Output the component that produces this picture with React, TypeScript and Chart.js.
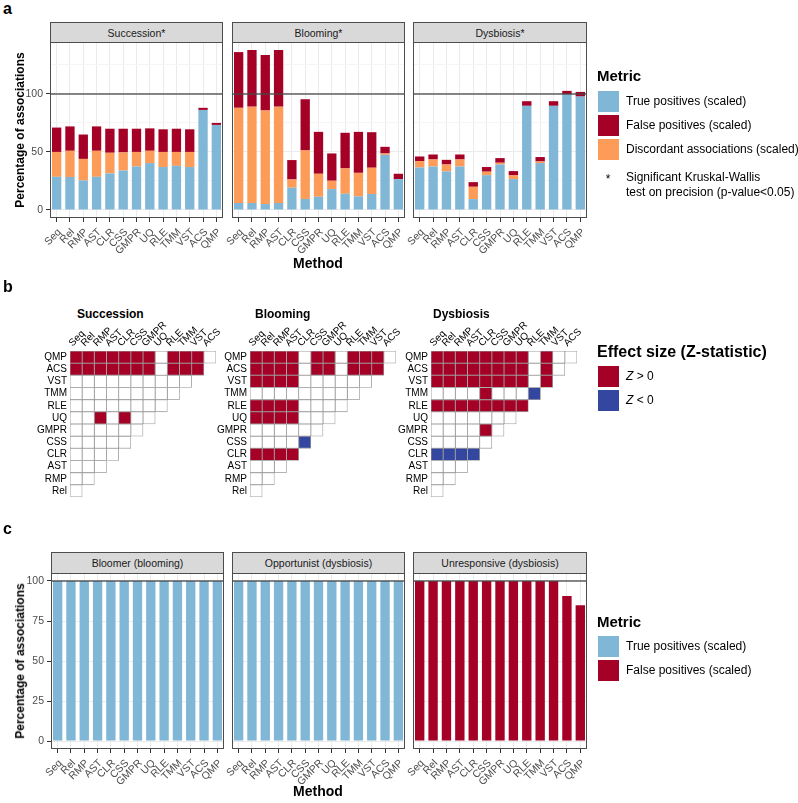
import React, { useEffect, useRef } from "react";
import { Chart, registerables } from "chart.js";
Chart.register(...registerables);

const FONT = "'Liberation Sans', Arial, Helvetica, sans-serif";
Chart.defaults.font.family = FONT;

// ---------- data ----------
const methods = ["Seq", "Rel", "RMP", "AST", "CLR", "CSS", "GMPR", "UQ", "RLE", "TMM", "VST", "ACS", "QMP"];

// Panel a (stack segments: true positives, discordant, false positives)
const succTP = [28.6, 28.4, 25.5, 28.6, 31.5, 34.0, 37.5, 40.4, 37.0, 38.0, 37.0, 86.2, 73.3];
const succDisc = [21.4, 22.6, 18.5, 22.4, 17.8, 15.6, 12.5, 10.6, 13.0, 12.0, 13.0, 0, 0];
const succFP = [21.0, 21.0, 21.0, 21.0, 20.7, 20.4, 20.0, 19.3, 19.5, 20.0, 19.5, 1.8, 1.7];

const bloomTP = [6.0, 6.0, 5.1, 6.0, 19.2, 9.5, 11.4, 18.0, 14.0, 11.7, 13.8, 47.5, 26.6];
const bloomDisc = [82.0, 83.0, 80.6, 83.0, 7.1, 41.8, 19.8, 7.2, 21.8, 20.3, 22.6, 1.2, 0];
const bloomFP = [48.0, 48.8, 47.8, 48.8, 16.7, 44.1, 36.1, 23.5, 30.7, 35.3, 30.6, 5.7, 4.6];

const dysTP = [36.6, 37.5, 33.2, 37.5, 9.4, 30.0, 39.2, 26.6, 89.7, 40.4, 89.7, 99.7, 97.7];
const dysDisc = [5.5, 6.0, 6.0, 6.0, 10.6, 3.0, 1.5, 3.2, 0, 1.4, 0, 0, 0];
const dysFP = [4.0, 4.3, 4.0, 4.3, 4.0, 4.0, 4.0, 3.7, 4.0, 3.8, 4.0, 2.9, 4.0];

// Panel b (r = Z>0, b = Z<0, 0 = not significant); rows top->bottom, columns Seq..ACS
const heatRows = ["QMP", "ACS", "VST", "TMM", "RLE", "UQ", "GMPR", "CSS", "CLR", "AST", "RMP", "Rel"];
const heatCols = ["Seq", "Rel", "RMP", "AST", "CLR", "CSS", "GMPR", "UQ", "RLE", "TMM", "VST", "ACS"];
const succEffect = ["rrrrrrr0rrr0", "rrrrrrr0rrr", "0000000000", "000000000", "00000000", "00r0r00", "000000", "00000", "0000", "000", "00", "0"];
const bloomEffect = ["rrrr0rr0rrr0", "rrrr0rr0rrr", "rrrr000000", "000000000", "rrrr0000", "rrrr000", "000000", "0000b", "rrrr", "000", "00", "0"];
const dysEffect = ["rrrrrrrr0r00", "rrrrrrrr0r0", "rrrrrrrr0r", "0000r000b", "rrrrrrrr", "0000000", "0000r0", "00000", "bbbb", "000", "00", "0"];

// Panel c
const bloomerTP = [100, 100, 100, 100, 100, 100, 100, 100, 100, 100, 100, 100, 100];
const opportunistTP = [100, 100, 100, 100, 100, 100, 100, 100, 100, 100, 100, 100, 100];
const unresponsiveFP = [100, 100, 100, 100, 100, 100, 100, 100, 100, 100, 100, 90.6, 84.8];

const aTicks = [0, 50, 100];
const cTicks = [0, 25, 50, 75, 100];

// ---------- styles ----------
const C_TP = "#80B6D6";
const C_FP = "#A50026";
const C_DISC = "#FD9B58";
const C_NEG = "#3447A0";

const fixScale = (w?: number, h?: number) => (s: any) => {
  if (w !== undefined) s.width = w;
  if (h !== undefined) s.height = h;
  s.paddingLeft = 0;
  s.paddingRight = 0;
  s.paddingTop = 0;
  s.paddingBottom = 0;
};

const framePlugin = {
  id: "frame",
  afterDatasetsDraw(chart: any) {
    const { ctx, chartArea: a, scales } = chart;
    const y = scales.y.getPixelForValue(100);
    ctx.save();
    ctx.strokeStyle = "rgba(70,70,70,0.65)";
    ctx.lineWidth = 2;
    ctx.beginPath();
    ctx.moveTo(a.left, y);
    ctx.lineTo(a.right, y);
    ctx.stroke();
    ctx.strokeStyle = "#4D4D4D";
    ctx.lineWidth = 1;
    ctx.strokeRect(a.left + 0.5, a.top + 0.5, a.right - a.left - 1, a.bottom - a.top - 1);
    ctx.restore();
  },
};

function ChartCanvas({ left, top, width, height, make }: any) {
  const ref = useRef<HTMLCanvasElement>(null);
  useEffect(() => {
    const chart = new Chart(ref.current as HTMLCanvasElement, make());
    return () => chart.destroy();
  }, []);
  return (
    <canvas
      ref={ref}
      width={width}
      height={height}
      style={{ position: "absolute", left, top, width, height }}
    />
  );
}

function barConfig(p: any) {
  return {
    type: "bar",
    data: {
      labels: methods,
      datasets: p.datasets.map((d: any) => ({
        ...d,
        barPercentage: 0.7,
        categoryPercentage: 1,
        borderWidth: 0,
      })),
    },
    options: {
      animation: false,
      responsive: false,
      events: [],
      layout: { padding: { left: p.yAxis ? 0 : p.padL, top: p.padT, right: p.padR, bottom: p.padB } },
      plugins: { legend: { display: false }, tooltip: { enabled: false } },
      scales: {
        x: {
          stacked: true,
          offset: true,
          grid: { offset: false, color: "#EBEBEB", lineWidth: 1, tickLength: 4, tickColor: "#333333", tickWidth: 1 },
          border: { display: false },
          ticks: {
            autoSkip: false,
            minRotation: 45,
            maxRotation: 45,
            color: "#4D4D4D",
            font: { size: 10.5, family: FONT },
            padding: 4,
            labelOffset: 3,
          },
          afterFit: fixScale(undefined, p.xH),
        },
        y: {
          stacked: true,
          min: p.yMin,
          max: p.yMax,
          ticks: {
            stepSize: 25,
            includeBounds: false,
            display: p.yAxis,
            color: "#4D4D4D",
            font: { size: 10.5, family: FONT },
            padding: 3,
            callback: (v: any) => (p.yLabels.includes(v) ? String(v) : ""),
          },
          grid: {
            color: (ctx: any) => (ctx.tick && p.yLabels.includes(ctx.tick.value) ? "#EBEBEB" : "#F5F5F5"),
            drawTicks: p.yAxis,
            tickLength: 4,
            tickColor: (ctx: any) => (ctx.tick && p.yLabels.includes(ctx.tick.value) ? "#333333" : "rgba(0,0,0,0)"),
          },
          border: { display: false },
          afterFit: fixScale(p.yAxis ? p.padL : 0),
        },
      },
    },
    plugins: [framePlugin],
  };
}

function BarFacet({ plotLeft, plotTop, plotW, plotH, yAxis, yMin, yMax, yLabels, datasets }: any) {
  const padL = yAxis ? 50 : 25;
  const padT = 6;
  const padR = 12;
  const xH = 45;
  const padB = 12;
  const width = padL + plotW + padR;
  const height = padT + plotH + xH + padB;
  return (
    <ChartCanvas
      left={plotLeft - padL}
      top={plotTop - padT}
      width={width}
      height={height}
      make={() => barConfig({ datasets, yAxis, yMin, yMax, yLabels, padL, padT, padR, padB, xH })}
    />
  );
}

const cellColor = (c: string) => (c === "r" ? C_FP : c === "b" ? C_NEG : "#FFFFFF");

function heatConfig(matrix: string[], L: number, T: number, R: number, B: number) {
  return {
    type: "bar",
    data: {
      labels: heatRows,
      datasets: heatCols.map((col, j) => ({
        label: col,
        data: heatRows.map((_, i) => (j < matrix[i].length ? [j, j + 1] : null)),
        backgroundColor: heatRows.map((_, i) => (j < matrix[i].length ? cellColor(matrix[i][j]) : "#FFFFFF")),
        borderColor: "#9C9C9C",
        borderWidth: 0.8,
        borderSkipped: false,
        grouped: false,
        barPercentage: 1,
        categoryPercentage: 1,
      })),
    },
    options: {
      indexAxis: "y",
      animation: false,
      responsive: false,
      events: [],
      layout: { padding: { left: 0, top: 0, right: R, bottom: B } },
      plugins: { legend: { display: false }, tooltip: { enabled: false } },
      scales: {
        x: { type: "linear", min: 0, max: 12, display: false },
        x2: {
          type: "category",
          labels: heatCols,
          position: "top",
          offset: true,
          grid: { display: false, drawTicks: false },
          border: { display: false },
          ticks: {
            autoSkip: false,
            minRotation: 45,
            maxRotation: 45,
            color: "#000000",
            font: { size: 10, family: FONT },
            padding: 2,
            labelOffset: 3,
          },
          afterFit: fixScale(undefined, T),
        },
        y: {
          type: "category",
          offset: true,
          grid: { display: false, drawTicks: false },
          border: { display: false },
          ticks: { color: "#000000", font: { size: 10, family: FONT }, padding: 3, autoSkip: false },
          afterFit: fixScale(L),
        },
      },
    },
  };
}

function Heat({ cellLeft, cellTop, matrix }: any) {
  const L = 60;
  const T = 40;
  const R = 30;
  const B = 6;
  const size = 146.4;
  return (
    <ChartCanvas
      left={cellLeft - L}
      top={cellTop - T}
      width={Math.round(L + size + R)}
      height={Math.round(T + size + B)}
      make={() => heatConfig(matrix, L, T, R, B)}
    />
  );
}

function Txt({ x, y, size = 12, bold = false, italic = false, anchor = "left", color = "#000", children }: any) {
  const tx = anchor === "center" ? "-50%" : anchor === "right" ? "-100%" : "0";
  return (
    <div
      style={{
        position: "absolute",
        left: x,
        top: y,
        transform: `translate(${tx}, -50%)`,
        fontSize: size,
        fontWeight: bold ? 700 : 400,
        fontStyle: italic ? "italic" : "normal",
        whiteSpace: "nowrap",
        lineHeight: 1.15,
        color,
      }}
    >
      {children}
    </div>
  );
}

function VTitle({ x, y, children }: any) {
  return (
    <div
      style={{
        position: "absolute",
        left: x,
        top: y,
        transform: "translate(-50%, -50%) rotate(-90deg)",
        fontSize: 12,
        fontWeight: 700,
        whiteSpace: "nowrap",
        lineHeight: 1.15,
      }}
    >
      {children}
    </div>
  );
}

function Strip({ left, top, width, height, label }: any) {
  return (
    <div
      style={{
        position: "absolute",
        left,
        top,
        width,
        height,
        boxSizing: "border-box",
        background: "#D9D9D9",
        border: "1px solid #4D4D4D",
        fontSize: 10.5,
        color: "#1A1A1A",
        display: "flex",
        alignItems: "center",
        justifyContent: "center",
        whiteSpace: "nowrap",
      }}
    >
      {label}
    </div>
  );
}

function Key({ x, y, color }: any) {
  return <div style={{ position: "absolute", left: x, top: y, width: 21, height: 21, background: color }} />;
}

const facetsA = [
  { l: 50, w: 173 },
  { l: 232, w: 173 },
  { l: 413, w: 174 },
];
const facetsC = [
  { l: 51, w: 173 },
  { l: 232, w: 173 },
  { l: 413, w: 174 },
];

export default function App() {
  const aTop = 42;
  const aH = 176;
  const cTop = 573;
  const cH = 176;
  const aSets = [
    { title: "Succession*", tp: succTP, disc: succDisc, fp: succFP },
    { title: "Blooming*", tp: bloomTP, disc: bloomDisc, fp: bloomFP },
    { title: "Dysbiosis*", tp: dysTP, disc: dysDisc, fp: dysFP },
  ];
  const cSets = [
    { title: "Bloomer (blooming)", data: bloomerTP, color: C_TP },
    { title: "Opportunist (dysbiosis)", data: opportunistTP, color: C_TP },
    { title: "Unresponsive (dysbiosis)", data: unresponsiveFP, color: C_FP },
  ];
  return (
    <div
      style={{
        position: "absolute",
        left: 0,
        top: 0,
        width: 798,
        height: 803,
        background: "#FFFFFF",
        overflow: "hidden",
        fontFamily: FONT,
        color: "#000",
      }}
    >
      {/* ---------- panel a ---------- */}
      <Txt x={3} y={9} size={16} bold>a</Txt>
      {aSets.map((s, i) => (
        <Strip key={"sa" + i} left={facetsA[i].l} top={22} width={facetsA[i].w} height={21} label={s.title} />
      ))}
      {aSets.map((s, i) => (
        <BarFacet
          key={"a" + i}
          plotLeft={facetsA[i].l}
          plotTop={aTop}
          plotW={facetsA[i].w}
          plotH={aH}
          yAxis={i === 0}
          yMin={-6.9}
          yMax={144.7}
          yLabels={aTicks}
          datasets={[
            { label: "True positives (scaled)", data: s.tp, backgroundColor: C_TP },
            { label: "Discordant associations (scaled)", data: s.disc, backgroundColor: C_DISC },
            { label: "False positives (scaled)", data: s.fp, backgroundColor: C_FP },
          ]}
        />
      ))}
      <VTitle x={21} y={130}>Percentage of associations</VTitle>
      <Txt x={318} y={263} size={14} bold anchor="center">Method</Txt>

      <Txt x={597} y={76} size={15} bold>Metric</Txt>
      <Key x={598} y={91} color={C_TP} />
      <Key x={598} y={115} color={C_FP} />
      <Key x={598} y={139} color={C_DISC} />
      <Txt x={626} y={101.5} size={12}>True positives (scaled)</Txt>
      <Txt x={626} y={125.5} size={12}>False positives (scaled)</Txt>
      <Txt x={626} y={149.5} size={12}>Discordant associations (scaled)</Txt>
      <Txt x={608} y={180} size={12} anchor="center">*</Txt>
      <Txt x={626} y={177.5} size={12}>Significant Kruskal-Wallis</Txt>
      <Txt x={626} y={192.5} size={12}>test on precision (p-value&lt;0.05)</Txt>

      {/* ---------- panel b ---------- */}
      <Txt x={3} y={287} size={16} bold>b</Txt>
      <Txt x={77} y={315} size={12} bold>Succession</Txt>
      <Txt x={255} y={315} size={12} bold>Blooming</Txt>
      <Txt x={433} y={315} size={12} bold>Dysbiosis</Txt>
      <Heat cellLeft={70} cellTop={351} matrix={succEffect} />
      <Heat cellLeft={250} cellTop={351} matrix={bloomEffect} />
      <Heat cellLeft={431} cellTop={351} matrix={dysEffect} />

      <Txt x={597} y={352} size={16} bold>Effect size (Z-statistic)</Txt>
      <Key x={598} y={366} color={C_FP} />
      <Key x={598} y={390} color={C_NEG} />
      <Txt x={626} y={376.5} size={12}>
        <i>Z</i> &gt; 0
      </Txt>
      <Txt x={626} y={400.5} size={12}>
        <i>Z</i> &lt; 0
      </Txt>

      {/* ---------- panel c ---------- */}
      <Txt x={3} y={529} size={16} bold>c</Txt>
      {cSets.map((s, i) => (
        <Strip key={"sc" + i} left={facetsC[i].l} top={552} width={facetsC[i].w} height={22} label={s.title} />
      ))}
      {cSets.map((s, i) => (
        <BarFacet
          key={"c" + i}
          plotLeft={facetsC[i].l}
          plotTop={cTop}
          plotW={facetsC[i].w}
          plotH={cH}
          yAxis={i === 0}
          yMin={-5}
          yMax={105}
          yLabels={cTicks}
          datasets={[{ label: s.color === C_TP ? "True positives (scaled)" : "False positives (scaled)", data: s.data, backgroundColor: s.color }]}
        />
      ))}
      <VTitle x={21} y={661}>Percentage of associations</VTitle>
      <Txt x={318} y={791} size={14} bold anchor="center">Method</Txt>

      <Txt x={597} y={622} size={15} bold>Metric</Txt>
      <Key x={598} y={636} color={C_TP} />
      <Key x={598} y={660} color={C_FP} />
      <Txt x={626} y={646.5} size={12}>True positives (scaled)</Txt>
      <Txt x={626} y={670.5} size={12}>False positives (scaled)</Txt>
    </div>
  );
}
